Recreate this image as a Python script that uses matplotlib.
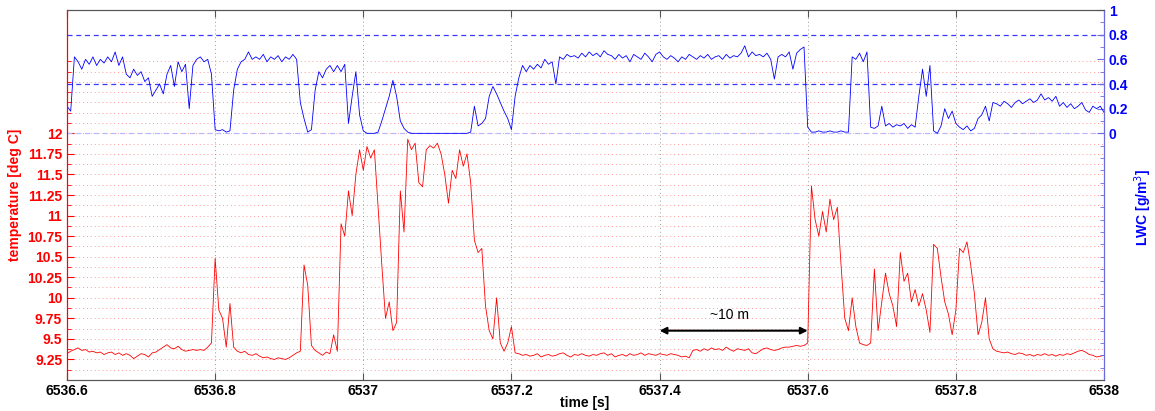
import numpy as np
import matplotlib
matplotlib.use("Agg")
import matplotlib.pyplot as plt
from matplotlib.ticker import FixedLocator, FuncFormatter

plt.rcParams['font.family'] = ['Liberation Sans', 'DejaVu Sans']

# ---- data (0.005 s sampling) ----
t_start, t_end = 6536.6, 6538.0
lwc = [
    0.22, 0.18, 0.62, 0.58, 0.52, 0.60, 0.56, 0.62, 0.55, 0.60,
    0.57, 0.62, 0.58, 0.66, 0.55, 0.62, 0.48, 0.45, 0.52, 0.47,
    0.50, 0.42, 0.45, 0.30, 0.35, 0.40, 0.32, 0.48, 0.55, 0.38,
    0.58, 0.50, 0.56, 0.20, 0.55, 0.60, 0.62, 0.58, 0.60, 0.48,
    0.03, 0.02, 0.03, 0.01, 0.02, 0.35, 0.52, 0.58, 0.60, 0.66,
    0.60, 0.62, 0.60, 0.64, 0.58, 0.62, 0.60, 0.63, 0.58, 0.62,
    0.60, 0.64, 0.60, 0.25, 0.12, 0.01, 0.03, 0.35, 0.50, 0.45,
    0.52, 0.55, 0.50, 0.55, 0.50, 0.56, 0.08, 0.30, 0.50, 0.15,
    0.02, 0.00, 0.00, 0.00, 0.01, 0.10, 0.20, 0.30, 0.43, 0.30,
    0.10, 0.04, 0.01, 0.00, 0.00, 0.00, 0.00, 0.00, 0.00, 0.00,
    0.00, 0.00, 0.00, 0.00, 0.00, 0.00, 0.00, 0.00, 0.00, 0.01,
    0.22, 0.06, 0.08, 0.12, 0.30, 0.38, 0.32, 0.25, 0.18, 0.12,
    0.03, 0.30, 0.45, 0.55, 0.50, 0.55, 0.52, 0.56, 0.53, 0.60,
    0.56, 0.58, 0.40, 0.62, 0.60, 0.64, 0.62, 0.63, 0.61, 0.65,
    0.62, 0.66, 0.63, 0.65, 0.62, 0.67, 0.64, 0.63, 0.60, 0.64,
    0.61, 0.63, 0.58, 0.64, 0.62, 0.60, 0.65, 0.62, 0.58, 0.64,
    0.66, 0.62, 0.60, 0.63, 0.61, 0.58, 0.62, 0.60, 0.64, 0.62,
    0.60, 0.63, 0.61, 0.64, 0.60, 0.62, 0.63, 0.60, 0.64, 0.61,
    0.63, 0.62, 0.65, 0.71, 0.62, 0.66, 0.63, 0.64, 0.62, 0.65,
    0.60, 0.44, 0.62, 0.64, 0.62, 0.66, 0.52, 0.65, 0.68, 0.70,
    0.05, 0.01, 0.01, 0.02, 0.01, 0.01, 0.02, 0.01, 0.01, 0.02,
    0.01, 0.01, 0.62, 0.60, 0.65, 0.58, 0.66, 0.05, 0.04, 0.06,
    0.22, 0.06, 0.08, 0.05, 0.07, 0.06, 0.08, 0.04, 0.07, 0.05,
    0.30, 0.52, 0.30, 0.55, 0.02, 0.00, 0.06, 0.20, 0.12, 0.18,
    0.08, 0.05, 0.03, 0.06, 0.02, 0.04, 0.12, 0.15, 0.22, 0.10,
    0.25, 0.24, 0.22, 0.26, 0.24, 0.21, 0.25, 0.27, 0.24, 0.26,
    0.28, 0.25, 0.27, 0.32, 0.27, 0.29, 0.26, 0.30, 0.22, 0.25,
    0.21, 0.24, 0.20, 0.22, 0.25, 0.19, 0.17, 0.22, 0.20, 0.22,
    0.17,
]
temperature = [
    9.32, 9.35, 9.37, 9.39, 9.36, 9.37, 9.34, 9.35, 9.33, 9.34,
    9.31, 9.33, 9.34, 9.31, 9.33, 9.30, 9.32, 9.30, 9.26, 9.29,
    9.32, 9.31, 9.28, 9.33, 9.34, 9.37, 9.40, 9.43, 9.39, 9.38,
    9.41, 9.37, 9.35, 9.36, 9.37, 9.36, 9.37, 9.36, 9.40, 9.45,
    10.48, 9.85, 9.75, 9.40, 9.93, 9.40, 9.35, 9.33, 9.35, 9.31,
    9.30, 9.32, 9.29, 9.27, 9.28, 9.26, 9.25, 9.27, 9.26, 9.25,
    9.27, 9.30, 9.33, 9.35, 10.40, 10.15, 9.42, 9.36, 9.33, 9.30,
    9.34, 9.32, 9.55, 9.35, 10.90, 10.75, 11.30, 11.00, 11.50, 11.80,
    11.55, 11.84, 11.70, 11.80, 11.10, 10.40, 9.75, 9.95, 9.60, 9.70,
    11.30, 10.80, 11.93, 11.80, 11.88, 11.40, 11.35, 11.80, 11.85, 11.82,
    11.88, 11.75, 11.50, 11.15, 11.55, 11.45, 11.80, 11.60, 11.75, 11.40,
    10.70, 10.55, 10.60, 9.90, 9.60, 9.50, 10.00, 9.45, 9.35, 9.45,
    9.65, 9.33, 9.32, 9.30, 9.31, 9.29, 9.30, 9.32, 9.28, 9.30,
    9.31, 9.29, 9.30, 9.32, 9.33, 9.30, 9.28, 9.31, 9.30, 9.32,
    9.30, 9.29, 9.31, 9.30, 9.32, 9.33, 9.30, 9.32, 9.28, 9.30,
    9.31, 9.29, 9.32, 9.30, 9.31, 9.33, 9.30, 9.32, 9.31, 9.30,
    9.32, 9.31, 9.30, 9.32, 9.31, 9.30, 9.28, 9.29, 9.27, 9.36,
    9.37, 9.35, 9.38, 9.36, 9.39, 9.37, 9.38, 9.36, 9.40, 9.37,
    9.35, 9.38, 9.37, 9.36, 9.38, 9.33, 9.32, 9.35, 9.38, 9.39,
    9.37, 9.36, 9.37, 9.39, 9.40, 9.40, 9.41, 9.42, 9.41, 9.42,
    9.45, 11.36, 10.95, 10.75, 11.05, 10.80, 11.20, 10.95, 11.10, 10.40,
    9.75, 9.60, 10.00, 9.65, 9.45, 9.43, 9.42, 9.45, 10.35, 9.60,
    9.95, 10.30, 10.05, 9.90, 9.65, 10.55, 10.20, 10.30, 9.95, 10.10,
    9.90, 10.05, 9.85, 9.58, 10.65, 10.60, 10.25, 9.95, 9.80, 9.55,
    9.85, 10.60, 10.55, 10.68, 10.40, 10.05, 9.55, 9.70, 10.00, 9.50,
    9.38, 9.35, 9.34, 9.33, 9.34, 9.32, 9.31, 9.33, 9.32, 9.30,
    9.31, 9.29, 9.31, 9.30, 9.32, 9.30, 9.31, 9.29, 9.31, 9.30,
    9.32, 9.31, 9.33, 9.35, 9.36, 9.34, 9.31, 9.30, 9.28, 9.29,
    9.30,
]
time = np.linspace(t_start, t_end, len(lwc))

x_ticks = [6536.6, 6536.8, 6537.0, 6537.2, 6537.4, 6537.6, 6537.8, 6538.0]
temp_ticks = [9.25, 9.5, 9.75, 10.0, 10.25, 10.5, 10.75, 11.0, 11.25, 11.5, 11.75, 12.0]
temp_grid = [9.125 + 0.125 * k for k in range(31)]
lwc_ticks = [0.0, 0.2, 0.4, 0.6, 0.8, 1.0]
lwc_grid = [0.4, 0.8]
arrow_t = (6537.4, 6537.6)
arrow_temp = 9.6
label_text = "~10 m"

RED = '#ff0000'
BLUE = '#0000ff'
SPINE_BLUE = '#6b6bde'

fig = plt.figure(figsize=(11.55, 4.11), dpi=100)
ax = fig.add_axes([67 / 1155, 1 - 380 / 411, (1104 - 67) / 1155, 370 / 411])
ax2 = ax.twinx()

# grids
for g in temp_grid:
    ax.axhline(g, color='#ff7777', ls=(0, (1, 3)), lw=0.7, alpha=0.75, zorder=0)
for xt in x_ticks[1:-1]:
    ax.axvline(xt, color='#999999', ls=(0, (1, 3)), lw=0.7, zorder=0)
for g in lwc_grid:
    ax2.axhline(g, color='#3a3aff', ls=(0, (4, 3)), lw=0.9, zorder=0)
ax2.axhline(0.0, color='#b8b8ff', ls=(0, (4, 3)), lw=0.9, zorder=0)

ax.plot(time, temperature, color=RED, lw=0.6)
ax2.plot(time, lwc, color=BLUE, lw=0.6)

ax.set_xlim(t_start, t_end)
ax.set_ylim(9.0, 13.5)
ax2.set_ylim(-2.0, 1.0)

fmt = FuncFormatter(lambda v, p: f"{v:g}")
ax.set_xticks(x_ticks)
ax.xaxis.set_major_formatter(fmt)
ax.set_yticks(temp_ticks)
ax.yaxis.set_major_formatter(fmt)
ax.yaxis.set_minor_locator(FixedLocator(temp_grid))
ax2.set_yticks(lwc_ticks)
ax2.yaxis.set_major_formatter(fmt)
ax2.yaxis.set_minor_locator(FixedLocator([-1.9 + 0.1 * k for k in range(29)]))

ax.tick_params(axis='x', direction='in', length=5, color='#555555', top=True,
               labelsize=10, pad=3)
ax.tick_params(axis='y', which='both', direction='in', colors=RED, labelsize=10)
ax.tick_params(axis='y', which='major', length=5)
ax.tick_params(axis='y', which='minor', length=3)
ax2.tick_params(axis='y', which='both', direction='in', colors=BLUE, labelsize=10)
ax2.tick_params(axis='y', which='major', length=5, color=SPINE_BLUE)
ax2.tick_params(axis='y', which='minor', length=3, color=SPINE_BLUE)

for lab in ax.get_xticklabels() + ax.get_yticklabels() + ax2.get_yticklabels():
    lab.set_fontweight('bold')

for a in (ax, ax2):
    a.spines['top'].set_color('#555555')
    a.spines['bottom'].set_color('#555555')
    a.spines['left'].set_color(RED)
    a.spines['right'].set_color(SPINE_BLUE)

fig.text(585 / 1155, 1 - 403 / 411, 'time [s]', color='black', fontsize=10,
         fontweight='bold', ha='center', va='center')
fig.text(15 / 1155, 1 - 195 / 411, 'temperature [deg C]', color=RED, fontsize=10,
         fontweight='bold', rotation=90, ha='center', va='center')
fig.text(1143 / 1155, 1 - 207 / 411, 'LWC [g/m$^3$]', color=BLUE, fontsize=10,
         fontweight='bold', rotation=90, ha='center', va='center')

ax.annotate('', xy=(arrow_t[0], arrow_temp), xytext=(arrow_t[1], arrow_temp),
            arrowprops=dict(arrowstyle='<|-|>', color='black', lw=1.5,
                            mutation_scale=10, shrinkA=0, shrinkB=0))
ax.text(sum(arrow_t) / 2 - 0.006, arrow_temp + 0.1, label_text, fontsize=10,
        ha='center', va='bottom', color='black')

fig.savefig('out.png', dpi=100)
